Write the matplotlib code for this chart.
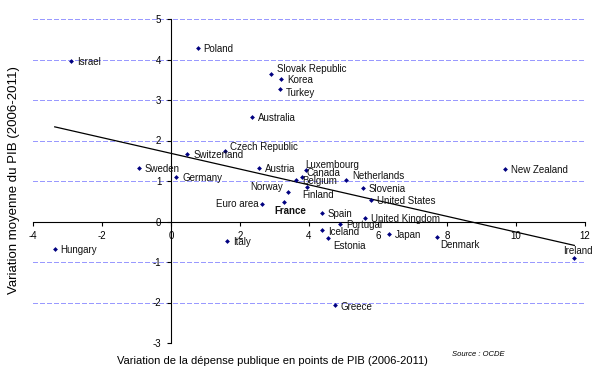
import numpy as np
import matplotlib
matplotlib.use("Agg")
import matplotlib.pyplot as plt

plt.rcParams['font.family'] = ['Liberation Sans', 'DejaVu Sans']
plt.rcParams['axes.unicode_minus'] = False

# data
countries = ['Israel', 'Poland', 'Slovak Republic', 'Korea', 'Turkey', 'Australia',
             'Czech Republic', 'Switzerland', 'Sweden', 'Germany', 'Austria', 'Norway',
             'Euro area', 'France', 'Hungary', 'Italy', 'Luxembourg', 'Canada', 'Belgium',
             'Netherlands', 'Slovenia', 'Finland', 'United States', 'Spain',
             'United Kingdom', 'Portugal', 'Iceland', 'Estonia', 'Japan', 'Denmark',
             'Greece', 'New Zealand', 'Ireland']
depense = [-2.89, 0.77, 2.90, 3.19, 3.16, 2.36,
           1.57, 0.47, -0.93, 0.15, 2.54, 3.38,
           2.64, 3.27, -3.37, 1.62, 3.92, 3.79, 3.62,
           5.06, 5.56, 3.93, 5.80, 4.37,
           5.62, 4.91, 4.37, 4.55, 6.32, 7.72,
           4.74, 9.69, 11.69]
pib = [3.97, 4.28, 3.65, 3.51, 3.28, 2.58,
       1.74, 1.67, 1.33, 1.09, 1.33, 0.72,
       0.44, 0.47, -0.67, -0.49, 1.28, 1.11, 1.03,
       1.03, 0.83, 0.85, 0.54, 0.22,
       0.09, -0.06, -0.20, -0.40, -0.30, -0.39,
       -2.06, 1.30, -0.90]

xticks = [-4, -2, 0, 2, 4, 6, 8, 10, 12]
yticks = [-3, -2, -1, 0, 1, 2, 3, 4, 5]

# label placement (pixel offsets, alignment)
offsets = {
    'Slovak Republic': (6, 5), 'Turkey': (6, -4), 'Czech Republic': (5, 4),
    'Norway': (-5, 5, 'right'), 'Euro area': (-3, 0, 'right'), 'France': (6, -9, 'center'),
    'Luxembourg': (-1, 5), 'Canada': (5, 4), 'Netherlands': (7, 4),
    'Finland': (-4, -8), 'Iceland': (6, -2), 'Estonia': (5, -8), 'Denmark': (3, -8),
    'Greece': (6, -2), 'Ireland': (4, 7, 'center'),
}

fig = plt.figure(figsize=(5.94, 3.8), dpi=100)
ax = fig.add_axes([33 / 594, 1 - 343 / 380, 552 / 594, 324 / 380])

for y in yticks:
    ax.axhline(y, color='#9999ff', linestyle=(0, (4, 2)), linewidth=0.75,
               antialiased=False, zorder=0)

ax.scatter(depense, pib, marker='D', s=6, color='#000080', zorder=3, linewidths=0)

# linear trend line over the data range
a, b = np.polyfit(depense, pib, 1)
xs = np.array([min(depense), max(depense)])
ax.plot(xs, a * xs + b, color='black', linewidth=0.9, zorder=2)

for name, x, y in zip(countries, depense, pib):
    off = offsets.get(name, (6, -1))
    ha = off[2] if len(off) > 2 else 'left'
    ax.annotate(name, (x, y), xytext=(off[0], off[1]), textcoords='offset pixels',
                ha=ha, va='center', fontsize=7, color='#111111',
                fontweight='bold' if name == 'France' else 'normal')

ax.set_xlim(-4, 12)
ax.set_ylim(-3, 5)
ax.set_xticks(xticks)
ax.set_yticks(yticks)
ax.tick_params(labelsize=7, length=3, width=0.8, pad=4)
ax.spines['left'].set_position(('data', 0))
ax.spines['bottom'].set_position(('data', 0))
ax.spines['top'].set_visible(False)
ax.spines['right'].set_visible(False)
ax.patch.set_alpha(0)

fig.text(14 / 594, 1 - 180 / 380, 'Variation moyenne du PIB (2006-2011)', rotation=90,
         ha='center', va='center', fontsize=9.5)
fig.text(272 / 594, 1 - 361 / 380, 'Variation de la dépense publique en points de PIB (2006-2011)',
         ha='center', va='center', fontsize=8)
fig.text(452 / 594, 1 - 355 / 380, 'Source : OCDE', ha='left', va='center',
         fontsize=5.5, style='italic')

fig.savefig('out.png', dpi=100)
